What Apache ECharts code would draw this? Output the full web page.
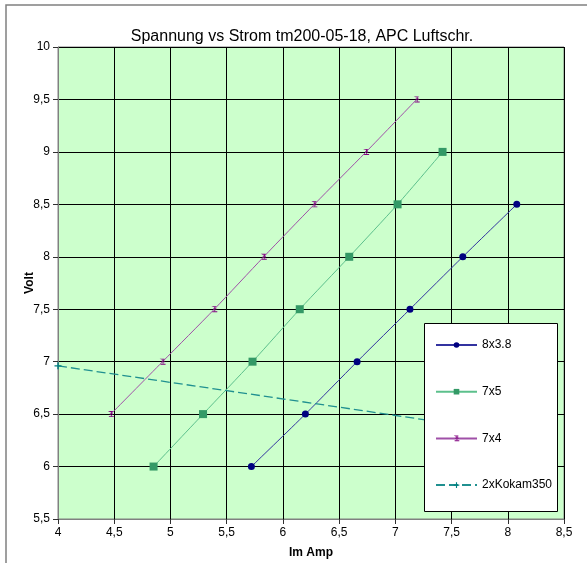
<!DOCTYPE html>
<html>
<head>
<meta charset="utf-8">
<script src="https://cdn.jsdelivr.net/npm/echarts@6/dist/echarts.min.js"></script>
<style>
html,body{margin:0;padding:0;background:#fff;}
#c{width:587px;height:563px;}
</style>
</head>
<body>
<div id="c"></div>
<script>
const titleText = 'Spannung vs Strom tm200-05-18, APC Luftschr.';
const seriesNames = ['8x3.8', '7x5', '7x4', '2xKokam350'];
const s8x38 = [[5.72, 6], [6.20, 6.5], [6.66, 7], [7.13, 7.5], [7.60, 8], [8.08, 8.5]];
const s7x5 = [[4.85, 6], [5.29, 6.5], [5.73, 7], [6.15, 7.5], [6.59, 8], [7.02, 8.5], [7.42, 9]];
const s7x4 = [[4.47, 6.5], [4.93, 7], [5.39, 7.5], [5.83, 8], [6.28, 8.5], [6.74, 9], [7.19, 9.5]];
const sKokam = [[4.0, 6.96], [8.0, 6.33]];

const fmt = v => String(v).replace('.', ',');
const plusPath = 'path://M4,0h2v4h4v2h-4v4h-2v-4h-4v-2h4z';
const starPath = 'path://M0,0h10v1.4h-3.6l-1.4,2.6l1.4,2.6h0l2.2,-3.2h1.4v2.4h-1.2l-1.6,2.3h4.8v1.5h-10v-1.5h4.8l-1.6,-2.3h-1.2v-2.4h1.4l2.2,3.2l1.4,-2.6l-1.4,-2.6h-3.6z';

const chart = echarts.init(document.getElementById('c'), null, {renderer: 'canvas'});
const font = 'Liberation Sans, Arial, sans-serif';
chart.setOption({
  animation: false,
  textStyle: {fontFamily: font},
  title: {
    text: titleText, left: 297, top: 24, textAlign: 'center',
    textStyle: {fontSize: 16, fontWeight: 'normal', color: '#000', fontFamily: font}
  },
  grid: {
    left: 58, right: 23, top: 47, bottom: 44, outerBoundsMode: 'none', containLabel: false,
    show: true, backgroundColor: '#CCFFCC', borderColor: '#808080', borderWidth: 1
  },
  xAxis: {
    type: 'value', min: 4, max: 8.5, interval: 0.5,
    name: 'Im Amp', nameLocation: 'middle', nameGap: 28, nameMoveOverlap: false,
    nameTextStyle: {fontSize: 12, fontWeight: 'bold', color: '#000', fontFamily: font},
    axisLine: {show: true, lineStyle: {color: '#808080'}},
    axisTick: {show: true, length: 5, lineStyle: {color: '#303030'}},
    axisLabel: {formatter: fmt, fontSize: 12, color: '#000', margin: 8, fontFamily: font},
    splitLine: {show: true, lineStyle: {color: '#000', width: 1}}
  },
  yAxis: {
    type: 'value', min: 5.5, max: 10, interval: 0.5,
    name: 'Volt', nameLocation: 'middle', nameGap: 22, nameRotate: 90, nameMoveOverlap: false,
    nameTextStyle: {fontSize: 12, fontWeight: 'bold', color: '#000', fontFamily: font},
    axisLine: {show: true, lineStyle: {color: '#808080'}},
    axisTick: {show: true, length: 5, lineStyle: {color: '#303030'}},
    axisLabel: {formatter: fmt, fontSize: 12, color: '#000', margin: 8, fontFamily: font},
    splitLine: {show: true, lineStyle: {color: '#000', width: 1}}
  },
  legend: {
    orient: 'vertical', left: 435, top: 339, itemGap: 34.7,
    itemWidth: 41, itemHeight: 7, padding: 0, z: 20,
    textStyle: {fontSize: 12, color: '#000', fontFamily: font},
    data: seriesNames
  },
  graphic: [
    {type: 'rect', z: 15, shape: {x: 424.5, y: 323.5, width: 133, height: 188},
     style: {fill: '#fff', stroke: '#000', lineWidth: 1}},
    {type: 'rect', z: 1, silent: true, shape: {x: 6, y: 5, width: 640, height: 640},
     style: {fill: 'none', stroke: '#808080', lineWidth: 1.5}}
  ],
  series: [
    {name: seriesNames[0], type: 'line', data: s8x38, smooth: 0.25,
     symbol: 'circle', symbolSize: 7,
     itemStyle: {color: '#000080'}, lineStyle: {color: '#3333A0', width: 1}},
    {name: seriesNames[1], type: 'line', data: s7x5, smooth: 0.25,
     symbol: 'rect', symbolSize: 8,
     itemStyle: {color: '#339966'}, lineStyle: {color: '#5CC08C', width: 1}},
    {name: seriesNames[2], type: 'line', data: s7x4, smooth: 0.25,
     symbol: starPath, symbolSize: 6,
     itemStyle: {color: '#800080'}, lineStyle: {color: '#A050A8', width: 1}},
    {name: seriesNames[3], type: 'line', data: sKokam,
     symbol: plusPath, symbolSize: 7,
     itemStyle: {color: '#008080'}, lineStyle: {color: '#209090', width: 1.3, type: [9, 4]}}
  ]
});
</script>
</body>
</html>
